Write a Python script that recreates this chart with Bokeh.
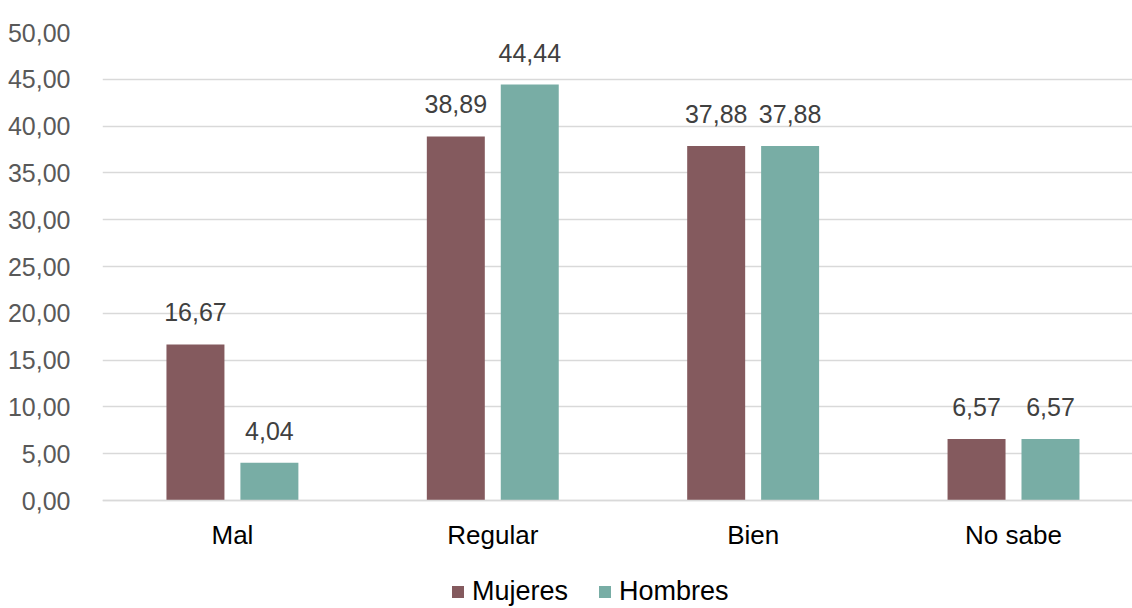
from bokeh.plotting import figure
from bokeh.models import ColumnDataSource, Legend, LegendItem, FixedTicker, Range1d
from bokeh.core.properties import value
from bokeh.transform import dodge
from bokeh.embed import file_html
from bokeh.resources import INLINE

categories = ["Mal", "Regular", "Bien", "No sabe"]
mujeres = [16.67, 38.89, 37.88, 6.57]
hombres = [4.04, 44.44, 37.88, 6.57]
series_names = ["Mujeres", "Hombres"]
series_colors = ["#845A5E", "#78ADA5"]
y_ticks = [0, 5, 10, 15, 20, 25, 30, 35, 40, 45, 50]

FONT = "Liberation Sans"


def fmt(v):
    return f"{v:.2f}".replace(".", ",")


idx = list(range(len(categories)))
src = ColumnDataSource(dict(
    x=idx,
    mujeres=mujeres,
    hombres=hombres,
    lab_m=[fmt(v) for v in mujeres],
    lab_h=[fmt(v) for v in hombres],
))

p = figure(width=1132, height=608, output_backend="svg", toolbar_location=None,
           x_range=Range1d(-0.499, 3.457), y_range=Range1d(-11.538, 50),
           min_border_left=102, min_border_top=32, min_border_bottom=0, min_border_right=0)
p.outline_line_color = None

off = 0.142
bw = 0.2227
r_m = p.vbar(x=dodge("x", -off, range=p.x_range), top="mujeres", bottom=0, width=bw, source=src,
             fill_color=series_colors[0], line_color=None)
r_h = p.vbar(x=dodge("x", off, range=p.x_range), top="hombres", bottom=0, width=bw, source=src,
             fill_color=series_colors[1], line_color=None)

for col, lab, o in [("mujeres", "lab_m", -off), ("hombres", "lab_h", off)]:
    p.text(x=dodge("x", o, range=p.x_range), y=col, text=lab, source=src,
           text_align="center", text_baseline="middle", y_offset=-32,
           text_font=value(FONT), text_font_size="25px", text_color="#404040")

# axes
p.xaxis.fixed_location = 0
p.xaxis.ticker = FixedTicker(ticks=idx)
p.xaxis.major_label_overrides = {i: c for i, c in zip(idx, categories)}
p.xaxis.major_tick_line_color = None
p.xaxis.minor_tick_line_color = None
p.xaxis.axis_line_color = "#D9D9D9"
p.xaxis.axis_line_width = 1.5
p.xaxis.major_label_text_font = FONT
p.xaxis.major_label_text_font_size = "26px"
p.xaxis.major_label_text_color = "#000000"
p.xaxis.major_label_standoff = 13

p.yaxis.ticker = FixedTicker(ticks=y_ticks)
p.yaxis.major_label_overrides = {t: fmt(t) for t in y_ticks}
p.yaxis.major_tick_line_color = None
p.yaxis.minor_tick_line_color = None
p.yaxis.axis_line_color = None
p.yaxis.major_label_text_font = FONT
p.yaxis.major_label_text_font_size = "25px"
p.yaxis.major_label_text_color = "#595959"
p.yaxis.major_label_standoff = 26

p.xgrid.visible = False
p.ygrid.ticker = FixedTicker(ticks=y_ticks)
p.ygrid.grid_line_color = "#D9D9D9"
p.ygrid.grid_line_width = 1.5

legend = Legend(items=[LegendItem(label=series_names[0], renderers=[r_m]),
                       LegendItem(label=series_names[1], renderers=[r_h])],
                orientation="horizontal", location=(348, 1),
                glyph_width=15, glyph_height=15, label_standoff=7, spacing=29,
                padding=0, margin=0, border_line_color=None, background_fill_alpha=0,
                label_text_font=FONT, label_text_font_size="27px", label_text_color="#000000")
p.add_layout(legend, "center")

open("out.html", "w").write(file_html(p, INLINE))
